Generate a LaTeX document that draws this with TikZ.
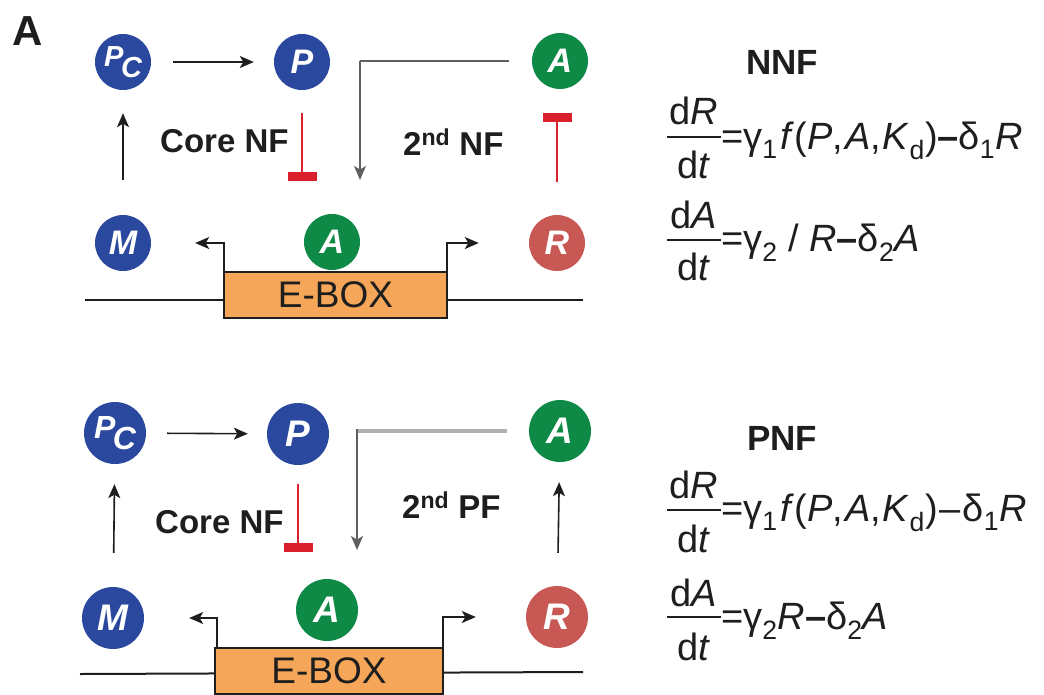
\documentclass[tikz,border=0pt]{standalone}
\usepackage{fontspec}
\setmainfont{Liberation Sans}
\usetikzlibrary{arrows.meta}
\definecolor{cblue}{RGB}{42,72,158}
\definecolor{cgreen}{RGB}{14,138,70}
\definecolor{cred}{RGB}{200,88,84}
\definecolor{inh}{RGB}{218,32,44}
\definecolor{eboxc}{RGB}{245,166,88}
\definecolor{txt}{RGB}{30,30,30}
\definecolor{gline}{RGB}{95,95,95}
\definecolor{glight}{RGB}{175,175,175}
\tikzset{
  mol/.style={circle, inner sep=0pt, text=white, font=\bfseries\itshape},
  molT/.style={mol, minimum size=56pt, font=\fontsize{34}{34}\selectfont\bfseries\itshape},
  molB/.style={mol, minimum size=62pt, font=\fontsize{37}{37}\selectfont\bfseries\itshape},
  blue/.style={fill=cblue}, green/.style={fill=cgreen}, redm/.style={fill=cred},
  tip/.tip={Stealth[length=14pt,width=12pt,inset=3.5pt]},
  arr/.style={draw=txt, line width=1.6pt, -tip},
  inhib/.style={draw=inh, line width=1.5pt, -{Rectangle[length=9pt,width=29pt]}},
  lbl/.style={inner sep=0pt, text=txt, font=\fontsize{33}{33}\selectfont\bfseries},
  title/.style={inner sep=0pt, text=txt, font=\fontsize{35}{35}\selectfont\bfseries},
  eq/.style={inner sep=0pt, text=txt, font=\fontsize{38}{38}\selectfont},
  fbar/.style={draw=txt, line width=1.6pt},
  dna/.style={draw=txt, line width=2pt},
  eboxs/.style={draw=txt, line width=1.5pt, fill=eboxc, inner sep=0pt, text=txt,
    font=\fontsize{37}{37}\selectfont}
}
\newcommand{\pcl}[1]{\fontsize{#1}{#1}\selectfont P\kern-0.08em\raisebox{-0.36em}{C}}
\begin{document}
\begin{tikzpicture}[x=1pt,y=-1pt]
\useasboundingbox (0,0) rectangle (1044,694);
\node[anchor=base west, inner sep=0pt, text=txt, font=\fontsize{42}{42}\selectfont\bfseries] (lab) at (12,45) {A};

% ---------- top panel ----------
\node[molT, blue] (Pc1) at (123,62) {\pcl{29}};
\node[molT, blue] (P1) at (302,62) {P};
\node[molT, green] (A1) at (560,61) {A};
\node[molT, blue] (M1) at (123,243) {M};
\node[molT, green] (Am1) at (332,242) {A};
\node[molT, redm] (R1) at (557,243) {R};

\draw[arr, shorten <=22pt, shorten >=20pt] (Pc1) -- (P1);
\draw[arr, shorten <=35pt, shorten >=23pt] (M1) -- (Pc1);
\coordinate (cn1) at (302,181);
\draw[inhib, shorten <=23pt] (P1.south) -- (cn1);
\coordinate (g1) at (360,61);
\coordinate (g1t) at (360,180);
\draw[draw=gline, line width=1.5pt, shorten <=23pt] (A1.west) -- (g1);
\draw[draw=gline, line width=1.5pt, -tip] (g1) -- (g1t);
\coordinate (ia1) at (557,113);
\draw[inhib, shorten <=33pt] (R1.north) -- (ia1);

\node[lbl, anchor=base west] (cnf1) at (160,152) {Core NF};
\node[lbl, anchor=base west] (snf1) at (403,155) {2\textsuperscript{nd} NF};

\coordinate (d1l) at (85,300);
\coordinate (d1r) at (583,300);
\draw[dna] (d1l) -- (d1r);
\node[eboxs, minimum width=223pt, minimum height=46pt] (EB1) at (335.5,295) {E-BOX};
\coordinate (bl1) at (224,272);
\coordinate (br1) at (447,272);
\draw[arr, shorten >=44pt] (bl1) |- (M1);
\draw[arr, shorten >=50pt] (br1) |- (R1);

% equations top
\node[title, anchor=base] (nnf) at (782,74) {NNF};
\node[eq, anchor=base] (n1) at (694,124) {d\textit{R}};
\coordinate (b1l) at (667,137); \coordinate (b1r) at (721,137);
\draw[fbar] (b1l) -- (b1r);
\node[eq, anchor=base] (dd1) at (694,178) {d\textit{t}};
\node[eq, anchor=base west] (r1) at (721,149) {=γ\textsubscript{1}\kern3pt\textit{f}(\textit{P},\kern2pt\textit{A},\kern2pt\textit{K}\textsubscript{d})\textbf{–}δ\textsubscript{1}\textit{R}};
\node[eq, anchor=base] (n2) at (694,228) {d\textit{A}};
\coordinate (b2l) at (667,240); \coordinate (b2r) at (721,240);
\draw[fbar] (b2l) -- (b2r);
\node[eq, anchor=base] (dd2) at (694,280) {d\textit{t}};
\node[eq, anchor=base west] (r2) at (721,251) {=γ\textsubscript{2} / \textit{R}\textbf{–}δ\textsubscript{2}\textit{A}};

% ---------- bottom panel ----------
\node[molB, blue] (Pc2) at (115,433) {\pcl{32}};
\node[molB, blue] (P2) at (298,434) {P};
\node[molB, green] (A2) at (560,431) {A};
\node[molB, blue] (M2) at (113,618) {M};
\node[molB, green] (Am2) at (327,610) {A};
\node[molB, redm] (R2) at (557,617) {R};

\draw[arr, shorten <=21pt, shorten >=19pt] (Pc2) -- (P2);
\draw[arr, shorten <=34pt, shorten >=20pt] (M2) -- (Pc2);
\draw[arr, shorten <=33pt, shorten >=20pt] (R2) -- (A2);
\coordinate (cn2) at (298,552);
\draw[inhib, shorten <=19pt] (P2.south) -- (cn2);
\coordinate (g2) at (357,431);
\coordinate (g2t) at (357,550);
\draw[draw=glight, line width=3.5pt, shorten <=22pt] (A2.west) -- (g2);
\draw[draw=gline, line width=1.6pt, -tip] ([yshift=1.75pt]g2) -- (g2t);

\node[lbl, anchor=base west] (cnf2) at (155,533) {Core NF};
\node[lbl, anchor=base west] (spf2) at (402,518) {2\textsuperscript{nd} PF};

\coordinate (d2l) at (80,674);
\coordinate (d2r) at (583,672);
\draw[dna] (d2l) -- (d2r);
\node[eboxs, minimum width=228pt, minimum height=46pt] (EB2) at (329,671) {E-BOX};
\coordinate (bl2) at (217,648);
\coordinate (br2) at (443,648);
\draw[arr, shorten >=45pt] (bl2) |- (M2);
\draw[arr, shorten >=50pt] (br2) |- (R2);

% equations bottom
\node[title, anchor=base] (pnf) at (782,450) {PNF};
\node[eq, anchor=base] (n3) at (694,498) {d\textit{R}};
\coordinate (b3l) at (667,510); \coordinate (b3r) at (721,510);
\draw[fbar] (b3l) -- (b3r);
\node[eq, anchor=base] (dd3) at (694,552) {d\textit{t}};
\node[eq, anchor=base west] (r3) at (721,521) {=γ\textsubscript{1}\kern3pt\textit{f}(\textit{P},\kern2pt\textit{A},\kern2pt\textit{K}\textsubscript{d})\kern2pt–\kern2ptδ\textsubscript{1}\textit{R}};
\node[eq, anchor=base] (n4) at (694,606) {d\textit{A}};
\coordinate (b4l) at (667,617); \coordinate (b4r) at (721,617);
\draw[fbar] (b4l) -- (b4r);
\node[eq, anchor=base] (dd4) at (694,660) {d\textit{t}};
\node[eq, anchor=base west] (r4) at (721,629) {=γ\textsubscript{2}\textit{R}\textbf{–}δ\textsubscript{2}\textit{A}};
\end{tikzpicture}
\end{document}
